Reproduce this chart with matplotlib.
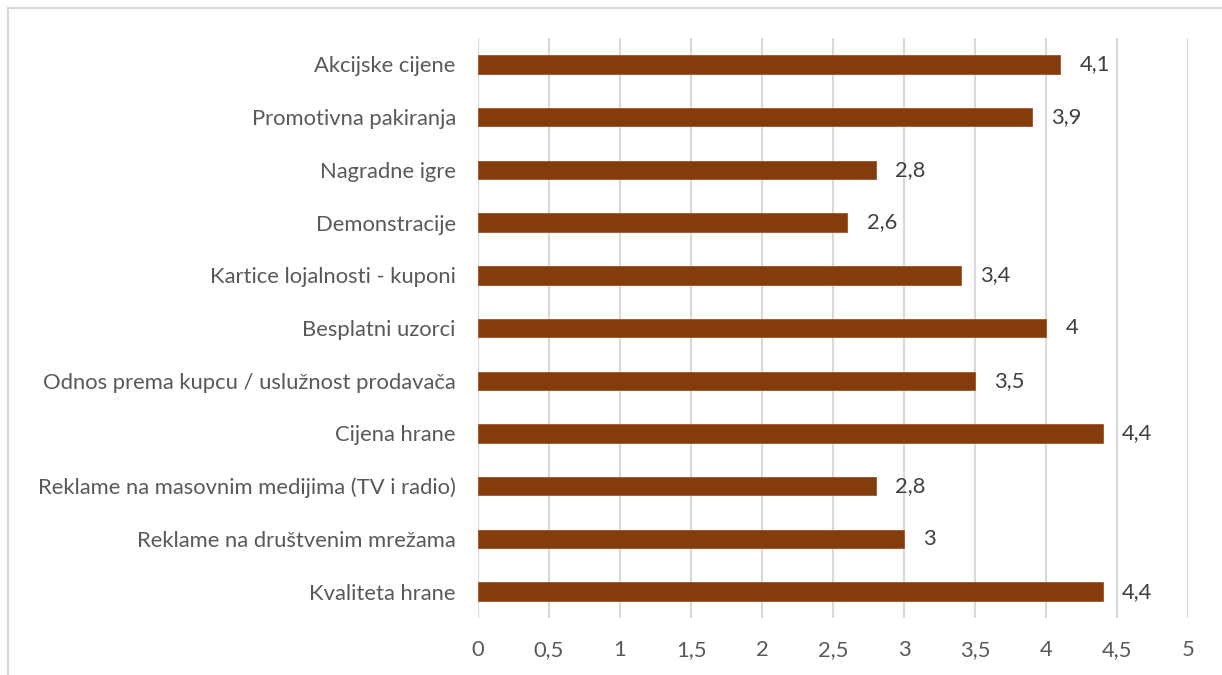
import matplotlib
matplotlib.use("Agg")
import matplotlib.pyplot as plt
from matplotlib.patches import Rectangle

categories = [
    "Akcijske cijene",
    "Promotivna pakiranja",
    "Nagradne igre",
    "Demonstracije",
    "Kartice lojalnosti - kuponi",
    "Besplatni uzorci",
    "Odnos prema kupcu / uslužnost prodavača",
    "Cijena hrane",
    "Reklame na masovnim medijima (TV i radio)",
    "Reklame na društvenim mrežama",
    "Kvaliteta hrane",
]
values = [4.1, 3.9, 2.8, 2.6, 3.4, 4.0, 3.5, 4.4, 2.8, 3.0, 4.4]
xticks = [0, 0.5, 1, 1.5, 2, 2.5, 3, 3.5, 4, 4.5, 5]

plt.rcParams['font.family'] = ['Lato', 'DejaVu Sans']

W, H = 1222, 675
fig = plt.figure(figsize=(W / 100, H / 100), dpi=100)
ax = fig.add_axes([478 / W, 1 - 618 / H, (1188 - 478) / W, (618 - 38) / H])

n = len(categories)
ypos = list(range(n))[::-1]
ax.barh(ypos, values, height=0.35, color="#843C0C", edgecolor="#A0522D", linewidth=0.6, zorder=3)
ax.set_ylim(-0.5, n - 0.5)
ax.set_xlim(0, 5)
ax.set_yticks(ypos)
ax.set_yticklabels(categories, fontsize=15.8, color="#595959")
ax.set_xticks(xticks)
ax.set_xticklabels([("%g" % t).replace(".", ",") for t in xticks], fontsize=15.8, color="#595959")
ax.tick_params(axis="both", length=0)
ax.tick_params(axis="y", pad=16)
ax.tick_params(axis="x", pad=16)
for s in ax.spines.values():
    s.set_visible(False)
ax.grid(axis="x", color="#D9D9D9", linewidth=1.5, zorder=0)
ax.set_axisbelow(True)

for y, v in zip(ypos, values):
    ax.annotate(("%g" % v).replace(".", ","), (v, y), xytext=(14, 0), textcoords="offset points",
                va="center", ha="left", fontsize=15.8, color="#404040")

fig.patches.append(Rectangle((8 / W, -0.1), 1.2, (H - 8) / H + 0.1, transform=fig.transFigure,
                             fill=False, edgecolor="#D9D9D9", linewidth=1.5))

fig.savefig("out.png", dpi=100, facecolor="white")
